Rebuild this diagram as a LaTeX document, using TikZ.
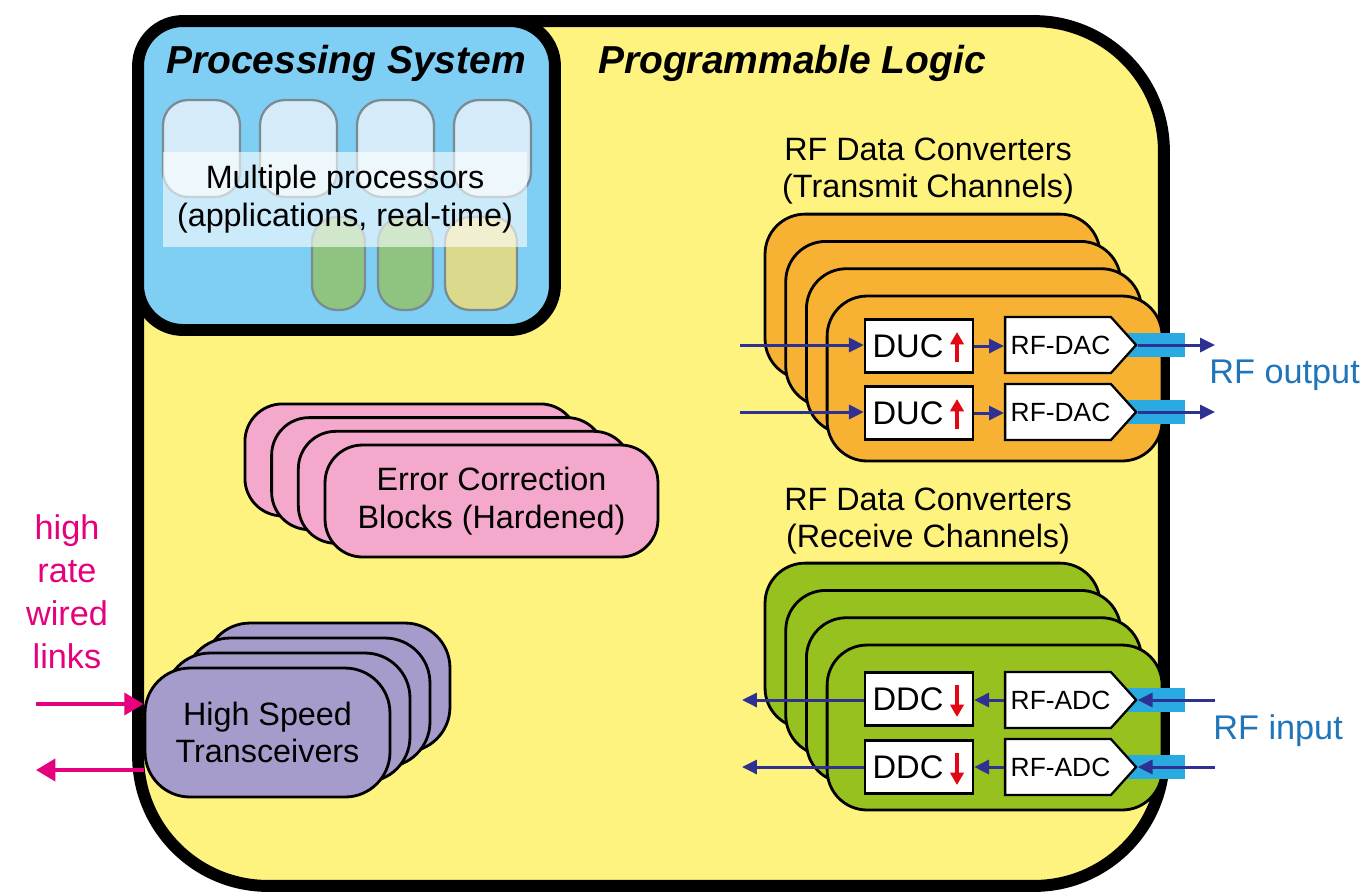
\documentclass[tikz,border=0pt]{standalone}
\usepackage{fontspec}
\setmainfont{Liberation Sans}
\usetikzlibrary{arrows.meta,calc,positioning,shapes.symbols}

\definecolor{plyellow}{HTML}{FFF380}
\definecolor{psblue}{HTML}{7FCFF4}
\definecolor{cpulight}{HTML}{D5EBF9}
\definecolor{cpugray}{HTML}{7A8B92}
\definecolor{rpugreen}{HTML}{8EC480}
\definecolor{rpuolive}{HTML}{DBD98B}
\definecolor{txorange}{HTML}{F7B233}
\definecolor{rxgreen}{HTML}{96C11F}
\definecolor{eccpink}{HTML}{F4A8CB}
\definecolor{hstpurple}{HTML}{A69CCB}
\definecolor{portcyan}{HTML}{29ABE2}
\definecolor{flownavy}{HTML}{2E3192}
\definecolor{linkmagenta}{HTML}{E5007D}
\definecolor{rfblue}{HTML}{1F74BA}
\definecolor{upred}{HTML}{E30613}

\begin{document}
\begin{tikzpicture}[
  x=0.02cm, y=-0.02cm,
  font=\fontsize{18.4}{21.5}\selectfont,
  region/.style={draw=black, line width=6.8pt, inner sep=0pt},
  cpu/.style={draw=cpugray, line width=1.3pt, fill=cpulight, rounded corners=0.5cm,
              minimum width=1.54cm, minimum height=1.94cm},
  rpu/.style={draw=cpugray, line width=1.3pt, rounded corners=0.5cm, minimum height=1.86cm},
  band/.style={fill=white, fill opacity=0.6, text opacity=1, align=center,
               minimum width=7.28cm, minimum height=1.9cm},
  blocktitle/.style={font=\fontsize{22.2}{26}\selectfont\bfseries\itshape},
  chanhead/.style={align=center},
  card/.style={draw=black, line width=1.6pt, inner sep=0pt},
  txcard/.style={card, fill=txorange, rounded corners=0.8cm, minimum width=6.7cm, minimum height=3.3cm},
  rxcard/.style={card, fill=rxgreen, rounded corners=0.8cm, minimum width=6.7cm, minimum height=3.3cm},
  ecccard/.style={card, fill=eccpink, rounded corners=0.75cm, align=center,
                  minimum width=6.66cm, minimum height=2.24cm},
  hstcard/.style={card, fill=hstpurple, rounded corners=0.9cm, align=center,
                  minimum width=4.9cm, minimum height=2.58cm},
  conv/.style={draw=black, line width=1.3pt, fill=white, inner sep=0pt,
               minimum width=2.16cm, minimum height=1.06cm, font=\fontsize{18.6}{21}\selectfont},
  dac/.style={draw=black, line width=1.3pt, fill=white, inner sep=0pt,
              shape=signal, signal to=east, signal pointer angle=96,
              minimum width=2.62cm, minimum height=1.12cm, font=\fontsize{15}{17}\selectfont},
  port/.style={fill=portcyan, inner sep=0pt, minimum width=1.16cm, minimum height=0.48cm},
  flow/.style={-{Triangle[length=8.5pt,width=8pt]}, draw=flownavy, line width=1.7pt},
  ratearrow/.style={-{Triangle[length=7pt,width=7.5pt]}, draw=upred, line width=1.8pt},
  link/.style={-{Triangle[length=11pt,width=12.5pt]}, draw=linkmagenta, line width=2.3pt},
  rflabel/.style={text=rfblue, anchor=west, inner sep=0pt, font=\fontsize{19.5}{23}\selectfont},
  linktext/.style={text=linkmagenta, align=center, font=\fontsize{19.5}{24.4}\selectfont},
]
\useasboundingbox (0,0) rectangle (1364,894);

% ---- the two regions ----
\node[region, fill=plyellow, rounded corners=2.6cm, minimum width=20.52cm, minimum height=17.3cm]
  (pl) at (651,453.5) {};
\node[region, fill=psblue, rounded corners=0.9cm, minimum width=8.34cm, minimum height=6.18cm]
  (ps) at (346.5,175.5) {};
\node[blocktitle] (pstitle) at (346,63) {Processing System};
\node[blocktitle] (pltitle) at (792,63) {Programmable Logic};

% ---- processors ----
\foreach \x [count=\i] in {201.5,298.5,395.5,492.5}
  \node[cpu] (cpu\i) at (\x,148.5) {};
\node[rpu, fill=rpugreen, minimum width=1.06cm] (rpu1) at (338.5,263.5) {};
\node[rpu, fill=rpugreen, minimum width=1.1cm]  (rpu2) at (405.5,263.5) {};
\node[rpu, fill=rpuolive, minimum width=1.44cm] (rpu3) at (481,263.5) {};
\node[band] (mp) at (345,199) {Multiple processors\\(applications, real-time)};

% ---- error correction ----
\foreach \k in {0,...,3}
  \node[ecccard] (ecc\k) at ({491.5-26.7*(3-\k)},{501-13.7*(3-\k)}) {};
\node[align=center] (ecctext) at (ecc3) {Error Correction\\Blocks (Hardened)};

% ---- transceivers ----
\foreach \k in {0,...,3}
  \node[hstcard] (hst\k) at ({267.5+20*(3-\k)},{732.5-15*(3-\k)}) {};
\node[align=center] (hsttext) at (hst3) {High Speed\\Transceivers};

\node[linktext] (links) at (67,592) {high\\rate\\wired\\links};
\coordinate (linkin)  at (36,704);
\coordinate (linkout) at (36,770);
\draw[link] (linkin) -- (linkin -| hst3.west);
\draw[link] (linkout -| hst3.west) -- (linkout);

% ---- transmit channels ----
\node[chanhead] (txhead) at (928,171) {RF Data Converters\\(Transmit Channels)};
\foreach \k in {0,...,3}
  \node[txcard] (tx\k) at ({994.6-20.7*(3-\k)},{378.5-27.3*(3-\k)}) {};

\node[port] (txport1) at (1156,345) {};
\node[port] (txport2) at (1156,412) {};
\node[conv] (duc1) at (919,346) {DUC\kern0.44cm};
\node[conv] (duc2) at (919,413) {DUC\kern0.44cm};
\node[dac] (dac1) at (1058,345) {\kern0.1cm RF-DAC};
\node[dac] (dac2) at (1058,412) {\kern0.1cm RF-DAC};
\draw[ratearrow] ($(duc1.center)+(38,16)$) -- ($(duc1.center)+(38,-14)$);
\draw[ratearrow] ($(duc2.center)+(38,16)$) -- ($(duc2.center)+(38,-14)$);

\coordinate (txin1)  at (740,345);
\coordinate (txin2)  at (740,412);
\coordinate (txout1) at (1215,345);
\coordinate (txout2) at (1215,412);
\draw[flow] (txin1) -- (txin1 -| duc1.west);
\draw[flow] (txin2) -- (txin2 -| duc2.west);
\draw[flow] (duc1.east) -- (duc1.east -| dac1.west);
\draw[flow] (duc2.east) -- (duc2.east -| dac2.west);
\draw[flow] (dac1.east) -- (txout1);
\draw[flow] (dac2.east) -- (txout2);
\node[rflabel] (rfout) at (1209,375) {RF output};

% ---- receive channels ----
\node[chanhead] (rxhead) at (928,521) {RF Data Converters\\(Receive Channels)};
\foreach \k in {0,...,3}
  \node[rxcard] (rx\k) at ({994.6-20.7*(3-\k)},{727.5-27.3*(3-\k)}) {};

\node[port] (rxport1) at (1156,700) {};
\node[port] (rxport2) at (1156,767) {};
\node[conv] (ddc1) at (919,699) {DDC\kern0.44cm};
\node[conv] (ddc2) at (919,767) {DDC\kern0.44cm};
\node[dac] (adc1) at (1058,700) {\kern0.1cm RF-ADC};
\node[dac] (adc2) at (1058,767) {\kern0.1cm RF-ADC};
\draw[ratearrow] ($(ddc1.center)+(38,-14)$) -- ($(ddc1.center)+(38,18)$);
\draw[ratearrow] ($(ddc2.center)+(38,-14)$) -- ($(ddc2.center)+(38,18)$);

\coordinate (rxin1)  at (1215,700);
\coordinate (rxin2)  at (1215,767);
\coordinate (rxout1) at (742,700);
\coordinate (rxout2) at (742,767);
\draw[flow] (rxin1) -- (adc1.east);
\draw[flow] (rxin2) -- (adc2.east);
\draw[flow] (adc1.west) -- (adc1.west -| ddc1.east);
\draw[flow] (adc2.west) -- (adc2.west -| ddc2.east);
\draw[flow] (rxout1 -| ddc1.west) -- (rxout1);
\draw[flow] (rxout2 -| ddc2.west) -- (rxout2);
\node[rflabel] (rfin) at (1213,731) {RF input};

\end{tikzpicture}
\end{document}
